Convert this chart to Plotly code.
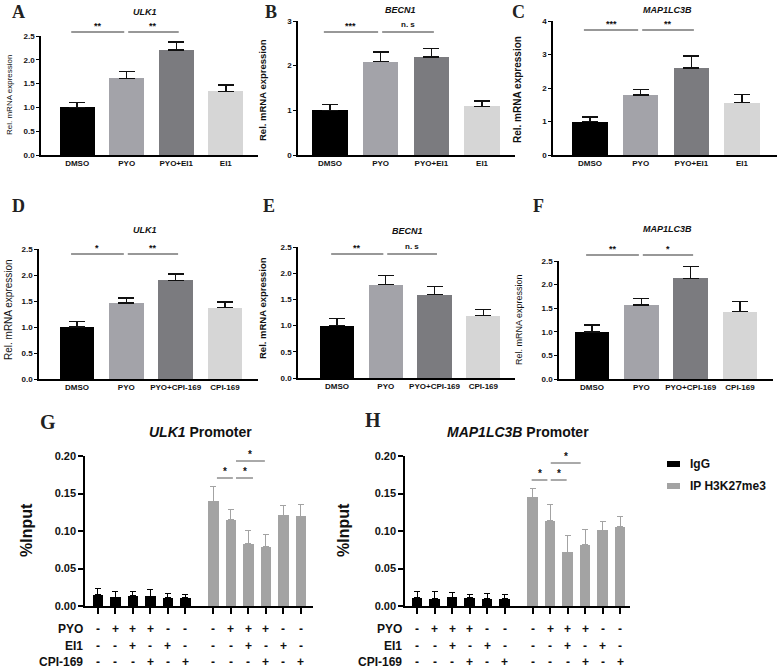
import plotly.graph_objects as go

W, H = 778, 672

# ---- data ----
groups_ei1 = ["DMSO", "PYO", "PYO+EI1", "EI1"]
groups_cpi = ["DMSO", "PYO", "PYO+CPI-169", "CPI-169"]

ulk1_ei1 = [1.00, 1.61, 2.21, 1.34]
ulk1_ei1_err = [0.10, 0.14, 0.16, 0.13]
becn1_ei1 = [1.00, 2.09, 2.19, 1.09]
becn1_ei1_err = [0.13, 0.22, 0.20, 0.12]
lc3b_ei1 = [1.00, 1.79, 2.60, 1.56]
lc3b_ei1_err = [0.14, 0.17, 0.35, 0.24]

ulk1_cpi = [1.00, 1.46, 1.90, 1.37]
ulk1_cpi_err = [0.11, 0.10, 0.12, 0.11]
becn1_cpi = [1.00, 1.78, 1.59, 1.19]
becn1_cpi_err = [0.14, 0.18, 0.16, 0.12]
lc3b_cpi = [1.00, 1.57, 2.13, 1.43]
lc3b_cpi_err = [0.14, 0.14, 0.25, 0.21]

# ChIP-qPCR (G, H)
pyo_signs = ["-", "+", "+", "+", "-", "-"]
ei1_signs = ["-", "-", "+", "-", "+", "-"]
cpi_signs = ["-", "-", "-", "+", "-", "+"]

ulk1_igg = [0.015, 0.012, 0.014, 0.013, 0.011, 0.011]
ulk1_igg_err = [0.008, 0.008, 0.006, 0.009, 0.006, 0.005]
ulk1_ip = [0.140, 0.115, 0.083, 0.079, 0.121, 0.120]
ulk1_ip_err = [0.020, 0.014, 0.018, 0.017, 0.013, 0.016]

lc3b_igg = [0.011, 0.010, 0.012, 0.011, 0.010, 0.010]
lc3b_igg_err = [0.008, 0.009, 0.006, 0.005, 0.007, 0.006]
lc3b_ip = [0.145, 0.114, 0.072, 0.082, 0.101, 0.106]
lc3b_ip_err = [0.012, 0.021, 0.022, 0.020, 0.012, 0.013]

bar_colors = ["#000000", "#a3a3a9", "#7b7b7f", "#d6d6d6"]
igg_color = "#000000"
ip_color = "#a3a3a3"
TXT = "#111111"
FONT = "Arial, Liberation Sans, sans-serif"
SERIF = "Times New Roman, Liberation Serif, serif"


def fx(p):
    return p / W


def fy(p):
    return 1 - p / H


fig = go.Figure()
shapes = []
annos = []


def note(text, x, y, xref="paper", yref="paper", xanchor="center", yanchor="middle", **kw):
    annos.append(dict(text=text, x=x, y=y, xref=xref, yref=yref, xanchor=xanchor,
                      yanchor=yanchor, showarrow=False, **kw))


# ---- panels A-F ----
panels = [
    dict(key="A", gene="ULK1", cats=groups_ei1, y=ulk1_ei1, err=ulk1_ei1_err, ymax=2.5, dtick=0.5, fmt=".1f",
         box=(41, 258, 36, 155), xr=(-0.73, 3.65), letter=(18, 12), title=(145, 12),
         ytitle=(9, 95, 8, "normal"), sig=[(0, 1, "**"), (1, 2, "**")], line=32),
    dict(key="B", gene="BECN1", cats=groups_ei1, y=becn1_ei1, err=becn1_ei1_err, ymax=3, dtick=1, fmt="d",
         box=(298, 515, 21, 155), xr=(-0.63, 3.65), letter=(271, 12), title=(400, 10),
         ytitle=(263, 90, 9.5, "bold"), sig=[(0, 1, "***"), (1, 2, "n. s")], line=32),
    dict(key="C", gene="MAP1LC3B", cats=groups_ei1, y=lc3b_ei1, err=lc3b_ei1_err, ymax=4, dtick=1, fmt="d",
         box=(553, 777, 21, 155), xr=(-0.73, 3.69), letter=(518, 12), title=(667, 10),
         ytitle=(518, 90, 10, "bold"), sig=[(0, 1, "***"), (1, 2, "**")], line=30),
    dict(key="D", gene="ULK1", cats=groups_cpi, y=ulk1_cpi, err=ulk1_cpi_err, ymax=2.5, dtick=0.5, fmt=".1f",
         box=(39, 258, 249, 379), xr=(-0.77, 3.67), letter=(18, 206), title=(145, 230),
         ytitle=(8, 310, 10, "normal"), sig=[(0, 1, "*"), (1, 2, "**")], line=254),
    dict(key="E", gene="BECN1", cats=groups_cpi, y=becn1_cpi, err=becn1_cpi_err, ymax=2.5, dtick=0.5, fmt=".1f",
         box=(298, 515, 247, 378), xr=(-0.8, 3.65), letter=(269, 206), title=(407, 231),
         ytitle=(263, 308, 9.5, "bold"), sig=[(0, 1, "**"), (1, 2, "n. s")], line=254),
    dict(key="F", gene="MAP1LC3B", cats=groups_cpi, y=lc3b_cpi, err=lc3b_cpi_err, ymax=2.5, dtick=0.5, fmt=".1f",
         box=(559, 773, 261, 379), xr=(-0.67, 3.67), letter=(538, 206), title=(667, 229),
         ytitle=(519, 320, 9, "normal"), sig=[(0, 1, "**"), (1, 2, "*")], line=255),
]

n = 0
for p in panels:
    n += 1
    xid = "x" if n == 1 else f"x{n}"
    yid = "y" if n == 1 else f"y{n}"
    x0, x1, yt, yb = p["box"]
    fig.add_trace(go.Bar(
        x=list(range(len(p["cats"]))), y=p["y"], width=0.7,
        marker=dict(color=bar_colors, line=dict(width=0)),
        error_y=dict(type="data", array=p["err"], arrayminus=[0] * 4, symmetric=False,
                     color="#111111", thickness=1.4, width=8),
        xaxis=xid, yaxis=yid, showlegend=False,
    ))
    fig.layout["xaxis" if n == 1 else f"xaxis{n}"] = dict(
        domain=[fx(x0), fx(x1)], anchor=yid, range=list(p["xr"]), automargin=False,
        tickvals=list(range(4)), ticktext=p["cats"], ticks="",
        tickfont=dict(family=FONT, size=8, color=TXT, weight="bold"),
        showline=True, linecolor="#000", linewidth=1.5, showgrid=False, zeroline=False,
    )
    fig.layout["yaxis" if n == 1 else f"yaxis{n}"] = dict(
        domain=[fy(yb), fy(yt)], anchor=xid, range=[0, p["ymax"]], dtick=p["dtick"], automargin=False,
        tickformat=p["fmt"], ticks="outside", ticklen=3, tickwidth=1.2, tickcolor="#000",
        tickfont=dict(family=FONT, size=8, color=TXT, weight="bold"),
        showline=True, linecolor="#000", linewidth=1.5, showgrid=False, zeroline=False,
    )
    lx, ly = p["letter"]
    note(p["key"], fx(lx), fy(ly), font=dict(family=SERIF, size=18, color="#222", weight="bold"))
    tx, ty = p["title"]
    note(p["gene"], fx(tx), fy(ty), font=dict(family=FONT, size=9, color=TXT, weight="bold", style="italic"))
    ax_, ay_, asz, aw = p["ytitle"]
    note("Rel. mRNA expression", fx(ax_), fy(ay_), textangle=-90,
         font=dict(family=FONT, size=asz, color=TXT, weight=aw))
    for i, (a, b, lab) in enumerate(p["sig"]):
        if i == 0:
            sx0, sx1 = a - 0.12, b - 0.05
        else:
            sx0, sx1 = a + 0.03, b + 0.05
        shapes.append(dict(type="line", xref=xid, yref="paper", x0=sx0, x1=sx1,
                           y0=fy(p["line"]), y1=fy(p["line"]), line=dict(color="#333", width=1.2)))
        ns = lab == "n. s"
        note(lab, (sx0 + sx1) / 2, fy(p["line"] - (1 if ns else -1)), xref=xid, yanchor="bottom",
             font=dict(family=FONT, size=8 if ns else 9, color=TXT, weight="bold"))

# ---- panels G, H ----
igg_pos = [i for i in range(6)]
ip_pos = [i + 6.6 for i in range(6)]
all_pos = igg_pos + ip_pos

chip = [
    dict(key="G", gene="ULK1", igg=ulk1_igg, igg_err=ulk1_igg_err, ip=ulk1_ip, ip_err=ulk1_ip_err,
         box=(85, 313, 456, 606), xr=(-0.74, 12.29), letter=(48, 422), title=(200, 432), ytitle=26,
         rowlab=85, sig=[(6.8, 7.71, 478), (7.89, 8.86, 478), (7.89, 9.54, 461)]),
    dict(key="H", gene="MAP1LC3B", igg=lc3b_igg, igg_err=lc3b_igg_err, ip=lc3b_ip, ip_err=lc3b_ip_err,
         box=(405, 630, 456, 606), xr=(-0.69, 12.17), letter=(373, 420), title=(518, 432), ytitle=343,
         rowlab=404, sig=[(6.55, 7.45, 480), (7.64, 8.55, 480), (7.64, 9.35, 463)]),
]

for c in chip:
    n += 1
    xid, yid = f"x{n}", f"y{n}"
    x0, x1, yt, yb = c["box"]
    fig.add_trace(go.Bar(
        x=igg_pos, y=c["igg"], width=0.6, marker=dict(color=igg_color, line=dict(width=0)),
        error_y=dict(type="data", array=c["igg_err"], arrayminus=[0] * 6, symmetric=False,
                     color=igg_color, thickness=1, width=3),
        xaxis=xid, yaxis=yid, showlegend=False,
    ))
    fig.add_trace(go.Bar(
        x=ip_pos, y=c["ip"], width=0.6, marker=dict(color=ip_color, line=dict(width=0)),
        error_y=dict(type="data", array=c["ip_err"], arrayminus=[0] * 6, symmetric=False,
                     color=ip_color, thickness=1, width=3),
        xaxis=xid, yaxis=yid, showlegend=False,
    ))
    fig.layout[f"xaxis{n}"] = dict(
        domain=[fx(x0), fx(x1)], anchor=yid, range=list(c["xr"]), automargin=False,
        tickvals=all_pos, showticklabels=False, ticks="outside", ticklen=6, tickwidth=1.5,
        tickcolor="#000", showline=True, linecolor="#000", linewidth=1.5,
        showgrid=False, zeroline=False,
    )
    fig.layout[f"yaxis{n}"] = dict(
        domain=[fy(yb), fy(yt)], anchor=xid, range=[0, 0.20], dtick=0.05, tickformat=".2f",
        automargin=False, ticks="outside", ticklen=5, tickwidth=1.5, tickcolor="#000",
        tickfont=dict(family=FONT, size=11, color=TXT, weight="bold"),
        showline=True, linecolor="#000", linewidth=1.5, showgrid=False, zeroline=False,
    )
    lx, ly = c["letter"]
    note(c["key"], fx(lx), fy(ly), font=dict(family=SERIF, size=20, color="#222", weight="bold"))
    tx, ty = c["title"]
    note(f"<i>{c['gene']}</i> Promoter", fx(tx), fy(ty),
         font=dict(family=FONT, size=14, color=TXT, weight="bold"))
    note("%Input", fx(c["ytitle"]), fy(530), textangle=-90,
         font=dict(family=FONT, size=16, color=TXT, weight="bold"))
    for sx0, sx1, ly_ in c["sig"]:
        shapes.append(dict(type="line", xref=xid, yref="paper", x0=sx0, x1=sx1,
                           y0=fy(ly_), y1=fy(ly_), line=dict(color="#555", width=1)))
        note("*", (sx0 + sx1) / 2, fy(ly_ + 1), xref=xid, yanchor="bottom",
             font=dict(family=FONT, size=10, color=TXT, weight="bold"))
    # treatment table
    for row_lab, signs, row_y in [("PYO", pyo_signs, 629), ("EI1", ei1_signs, 646), ("CPI-169", cpi_signs, 662)]:
        note(row_lab, fx(c["rowlab"]), fy(row_y), xanchor="right",
             font=dict(family=FONT, size=12, color=TXT, weight="bold"))
        for xp, s in zip(all_pos, signs + signs):
            note(s, xp, fy(row_y), xref=xid, font=dict(family=FONT, size=12, color=TXT, weight="bold"))

# legend for G/H
for col, lab, ly in [(igg_color, "IgG", 464), (ip_color, "IP H3K27me3", 486)]:
    shapes.append(dict(type="rect", xref="paper", yref="paper", x0=fx(667), x1=fx(680),
                       y0=fy(ly + 3), y1=fy(ly - 3), fillcolor=col, line=dict(width=0)))
    note(lab, fx(688), fy(ly), xanchor="left", font=dict(family=FONT, size=12, color=TXT, weight="bold"))

fig.update_layout(
    template="none",
    width=W, height=H, margin=dict(l=0, r=0, t=0, b=0, autoexpand=False),
    paper_bgcolor="white", plot_bgcolor="white", bargap=0,
    shapes=shapes, annotations=annos, showlegend=False,
    font=dict(family=FONT, color=TXT),
)

fig.write_html("out.html", config={"displayModeBar": False},
               post_script="document.body.style.margin='0';")
